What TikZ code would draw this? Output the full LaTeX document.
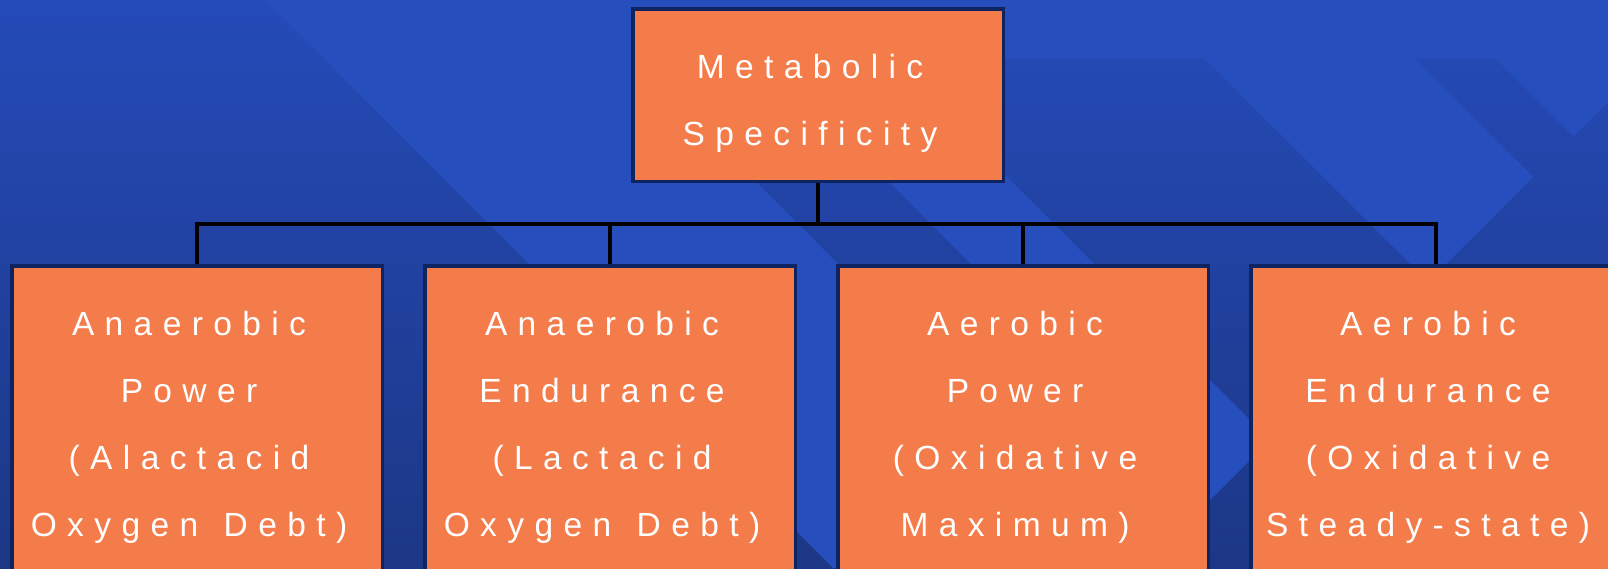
\documentclass[tikz,border=0pt]{standalone}
\usepackage{fontspec}
\newfontfamily\lsfont[LetterSpace=31,WordSpace=1.3]{Liberation Sans}
\definecolor{bgtop}{HTML}{254BB9}
\definecolor{bgbot}{HTML}{1C3785}
\definecolor{stripe}{HTML}{264EBD}
\definecolor{boxfill}{HTML}{F47C4A}
\definecolor{boxline}{HTML}{0E2460}
\tikzset{
  mbox/.style={rectangle, draw=boxline, fill=boxfill, line width=3.5pt, inner sep=0pt},
  lbl/.style={inner sep=0pt, text=white, font=\lsfont\fontsize{33.5pt}{67pt}\selectfont},
  conn/.style={draw=black, line width=4pt, line join=miter}
}
\newcommand{\lines}[1]{\begin{tabular}[t]{@{}c@{}}#1\end{tabular}}
\begin{document}
\begin{tikzpicture}[x=1pt,y=-1pt]
\useasboundingbox (0,0) rectangle (1608,568);
\clip (0,0) rectangle (1608,568);
% background
\shade[top color=bgtop, bottom color=bgbot] (0,0) rectangle (1608,568);
\fill[stripe] (265,0) -- (1608,0) -- (1608,58) -- (323,58) -- cycle;
\fill[stripe] (323,58) -- (632,58) -- (1142,568) -- (833,568) -- cycle;
\fill[stripe] (765,58) -- (888,58) -- (1270,440) -- (1208.5,501.5) -- cycle;
\fill[stripe] (1204,58) -- (1414,58) -- (1533,177) -- (1428,282) -- cycle;
\fill[stripe] (1495,58) -- (1608,58) -- (1608,102) -- (1573.5,136.5) -- cycle;
% boxes
\node[mbox, minimum width=370.5pt, minimum height=172.5pt] (top) at (818,95) {};
\node[mbox, minimum width=370.5pt, minimum height=354pt] (b1) at (197,443) {};
\node[mbox, minimum width=370.5pt, minimum height=354pt] (b2) at (610,443) {};
\node[mbox, minimum width=370.5pt, minimum height=354pt] (b3) at (1023,443) {};
\node[mbox, minimum width=370.5pt, minimum height=354pt] (b4) at (1436,443) {};
% texts
\node[lbl, anchor=base] (ttop) at (810,78) {\lines{Metabolic\\Specificity}};
\node[lbl, anchor=base] (t1) at (189,335) {\lines{Anaerobic\\Power\\(Alactacid\\Oxygen Debt)}};
\node[lbl, anchor=base] (t2) at (602,335) {\lines{Anaerobic\\Endurance\\(Lactacid\\Oxygen Debt)}};
\node[lbl, anchor=base] (t3) at (1015,335) {\lines{Aerobic\\Power\\(Oxidative\\Maximum)}};
\node[lbl, anchor=base] (t4) at (1428,335) {\lines{Aerobic\\Endurance\\(Oxidative\\Steady-state)}};
% connectors
\coordinate (bus) at (0,224);
\draw[conn] (top.south) -- (top.south |- bus);
\draw[conn] (b1.north) -- (b1.north |- bus) -- (b4.north |- bus) -- (b4.north);
\draw[conn] (b2.north) -- (b2.north |- bus);
\draw[conn] (b3.north) -- (b3.north |- bus);
\end{tikzpicture}
\end{document}
